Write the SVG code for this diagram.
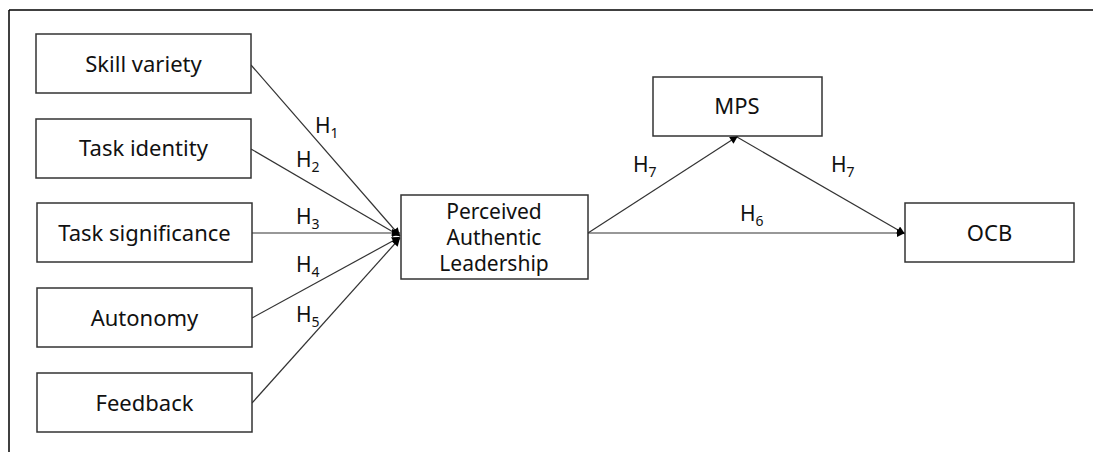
<svg xmlns="http://www.w3.org/2000/svg" width="1093" height="452" viewBox="0 0 1093 452">
<defs>
<marker id="ah" viewBox="0 0 10 10" refX="10" refY="5" markerWidth="10" markerHeight="8" markerUnits="userSpaceOnUse" orient="auto">
<path d="M0,0 L10,5 L0,10 z" fill="#000"/>
</marker>
</defs>
<style>
.box{fill:#fff;stroke:#333;stroke-width:1.5}
.t{font-family:"Noto Sans","Open Sans","Liberation Sans",sans-serif;font-size:22px;fill:#111;text-anchor:middle}
.p{font-size:21px}
.h{font-family:"Noto Sans","Open Sans","Liberation Sans",sans-serif;font-size:21px;fill:#111}
.s{font-size:14px}
.c{stroke:#333;stroke-width:1.2;fill:none;marker-end:url(#ah)}
</style>
<rect width="1093" height="452" fill="#fff"/>
<g id="frame" stroke="#000" stroke-width="1.5">
<line x1="9" y1="10" x2="1093" y2="10"/>
<line x1="9" y1="10" x2="9" y2="452"/>
</g>
<g id="connectors">
<line class="c" x1="251" y1="65" x2="400" y2="236"/>
<line class="c" x1="251" y1="149" x2="400" y2="236"/>
<line class="c" x1="252" y1="233" x2="400" y2="233"/>
<line class="c" x1="252" y1="318" x2="400" y2="237"/>
<line class="c" x1="252" y1="403" x2="400" y2="238"/>
<line class="c" x1="588" y1="233" x2="738" y2="136"/>
<line class="c" x1="737" y1="137" x2="905" y2="234"/>
<line class="c" x1="588" y1="233" x2="905" y2="233"/>
</g>
<g id="labels">
<text class="h" x="315" y="133">H<tspan class="s" dy="5">1</tspan></text>
<text class="h" x="296" y="167">H<tspan class="s" dy="5">2</tspan></text>
<text class="h" x="296" y="224">H<tspan class="s" dy="5">3</tspan></text>
<text class="h" x="296" y="272">H<tspan class="s" dy="5">4</tspan></text>
<text class="h" x="296" y="322">H<tspan class="s" dy="5">5</tspan></text>
<text class="h" x="633" y="172">H<tspan class="s" dy="5">7</tspan></text>
<text class="h" x="831" y="172">H<tspan class="s" dy="5">7</tspan></text>
<text class="h" x="740" y="221">H<tspan class="s" dy="5">6</tspan></text>
</g>
<g id="skill-variety"><rect class="box" x="36" y="34" width="215" height="59"/><text class="t" x="143.5" y="72">Skill variety</text></g>
<g id="task-identity"><rect class="box" x="36" y="119" width="215" height="59"/><text class="t" x="143.5" y="156">Task identity</text></g>
<g id="task-significance"><rect class="box" x="37" y="203" width="215" height="59"/><text class="t" x="144.5" y="241">Task significance</text></g>
<g id="autonomy"><rect class="box" x="37" y="288" width="215" height="59"/><text class="t" x="144.5" y="326">Autonomy</text></g>
<g id="feedback"><rect class="box" x="37" y="373" width="215" height="59"/><text class="t" x="144.5" y="411">Feedback</text></g>
<g id="pal"><rect class="box" x="401" y="195" width="187" height="84"/>
<text class="t p" x="494" y="219">Perceived</text>
<text class="t p" x="494" y="245">Authentic</text>
<text class="t p" x="494" y="271">Leadership</text></g>
<g id="mps"><rect class="box" x="653" y="77" width="169" height="59"/><text class="t" x="737" y="114">MPS</text></g>
<g id="ocb"><rect class="box" x="905" y="203" width="169" height="59"/><text class="t" x="989.5" y="241">OCB</text></g>
</svg>
